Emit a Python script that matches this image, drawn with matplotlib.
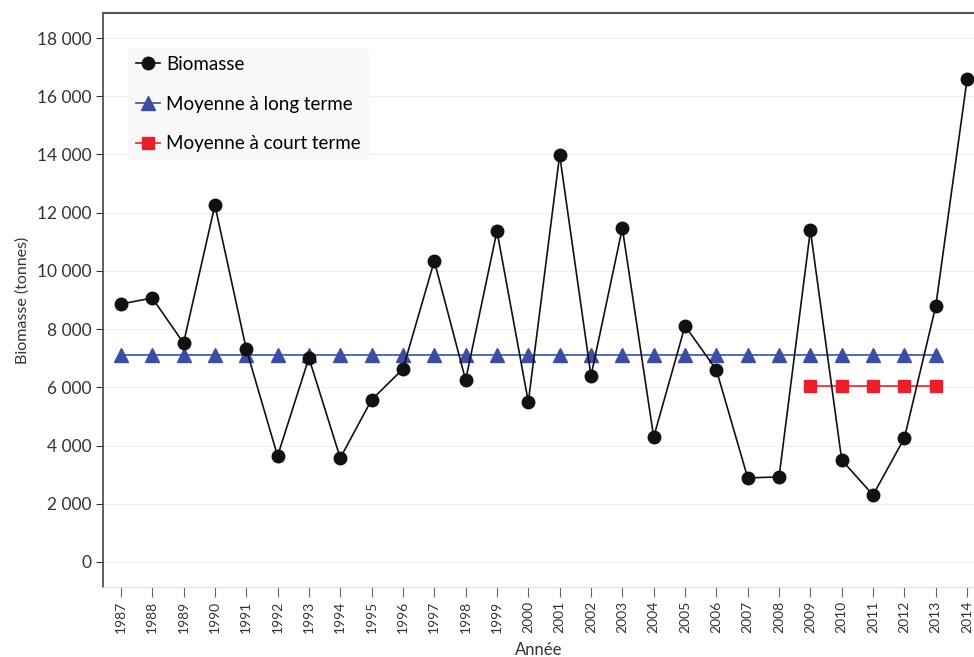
import matplotlib
matplotlib.use("Agg")
import matplotlib.pyplot as plt
from matplotlib.ticker import FuncFormatter

plt.rcParams['font.family'] = ['Lato', 'DejaVu Sans']

years = list(range(1987, 2015))
biomasse = [8860, 9070, 7520, 12260, 7320, 3640, 7010, 3570, 5570, 6630,
            10340, 6250, 11370, 5500, 13980, 6390, 11470, 4290, 8110, 6600,
            2890, 2920, 11400, 3500, 2300, 4260, 8790, 16590]
long_years = list(range(1987, 2014))
long_mean = [7100] * len(long_years)
short_years = list(range(2009, 2014))
short_mean = [6050] * len(short_years)

fig = plt.figure(figsize=(9.74, 6.57), dpi=100)
ax = fig.add_axes([103/974, 1 - 587/657, 1 - 103/974, (587 - 13)/657])

ax.plot(long_years, long_mean, color='#3a4fa3', lw=1.2, marker='^', ms=9.5,
        label='Moyenne à long terme', zorder=2)
ax.plot(short_years, short_mean, color='#e8202a', lw=1.2, marker='s', ms=9,
        label='Moyenne à court terme', zorder=2)
ax.plot(years, biomasse, color='#111111', lw=1.2, marker='o', ms=9,
        label='Biomasse', zorder=3)

ax.set_xlim(1986.43, 2014.22)
ax.set_ylim(-860, 18860)
ax.set_yticks(range(0, 18001, 2000))
ax.yaxis.set_major_formatter(FuncFormatter(lambda v, p: f"{int(v):,}".replace(',', ' ')))
ax.set_xticks(years)
ax.set_xticklabels([str(y) for y in years], rotation=90, fontsize=10, color='#333333')
ax.tick_params(axis='y', labelsize=12.5, colors='#333333', length=5, width=0.8)
ax.tick_params(axis='x', length=7, width=0.8, colors='#666666', pad=3)
for lbl in ax.get_yticklabels():
    lbl.set_color('#333333')
for lbl in ax.get_xticklabels():
    lbl.set_color('#333333')

ax.grid(axis='y', color='#eeeeee', lw=0.8)
ax.set_axisbelow(True)
ax.spines['right'].set_visible(False)
ax.spines['top'].set_color('#555555')
ax.spines['top'].set_linewidth(1.5)
ax.spines['left'].set_color('#444444')
ax.spines['left'].set_linewidth(1.2)
ax.spines['bottom'].set_color('#dddddd')
ax.spines['bottom'].set_linewidth(0.8)

ax.set_ylabel('Biomasse (tonnes)', fontsize=11.5, color='#333333', labelpad=5)
ax.set_xlabel('Année', fontsize=12, color='#333333', labelpad=6)

h, l = ax.get_legend_handles_labels()
order = [2, 0, 1]
leg = ax.legend([h[i] for i in order], [l[i] for i in order], loc='upper left',
                bbox_to_anchor=(0.018, 0.955), fontsize=13.5, frameon=True,
                handlelength=1.3, handletextpad=0.35, labelspacing=1.22,
                borderpad=0.4)
leg.get_frame().set_facecolor('#f8f8f8')
leg.get_frame().set_edgecolor('none')
leg.get_frame().set_alpha(1)

fig.savefig('out.png', dpi=100)
